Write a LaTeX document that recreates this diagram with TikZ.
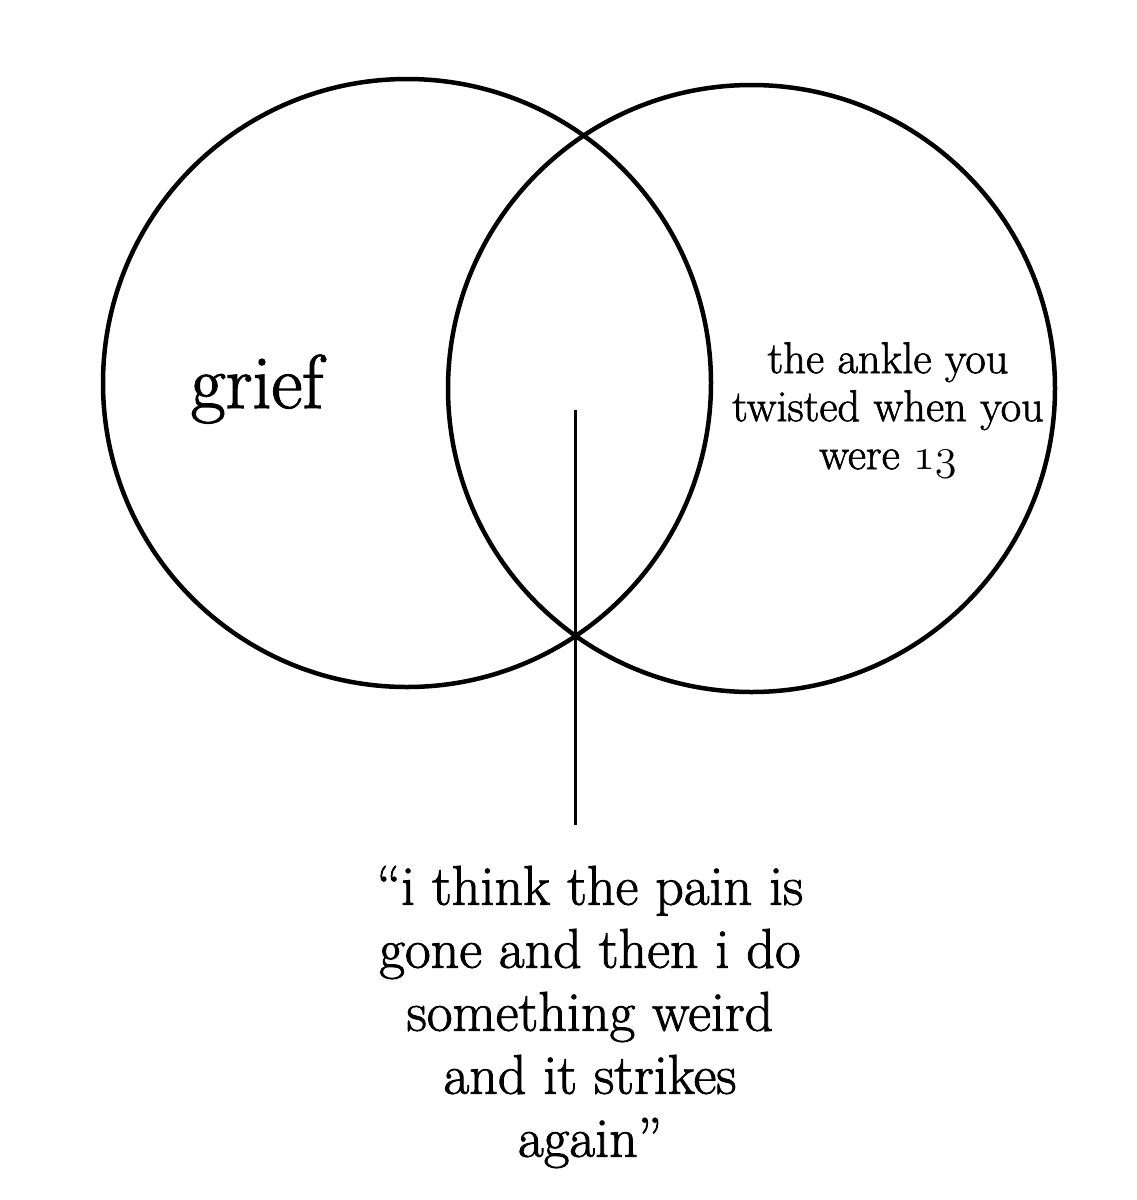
\documentclass[tikz,border=0pt]{standalone}
\usepackage{fontspec}
\setmainfont{Latin Modern Roman}[FakeBold=1.5]
\font\oldnumfont=cmmi12 at 44.5pt
\begin{document}
\begin{tikzpicture}[x=1pt,y=-1pt,
  ring/.style={draw=black,line width=4.5pt},
  stem/.style={draw=black,line width=3.5pt},
  lbl/.style={inner sep=0pt,align=center,text=black}]
\useasboundingbox[fill=white] (0,0) rectangle (1136,1200);
\draw[ring] (407,383) circle[radius=304];
\draw[ring] (751.5,388.5) circle[radius=303.5];
\coordinate (top) at (575.5,410);
\coordinate (bot) at (575.5,825);
\draw[stem] (top) -- (bot);
\node[lbl,anchor=base,font=\fontsize{76}{86}\selectfont] (grief) at (257,408) {grief};
\node[lbl,font=\fontsize{44.5}{48}\selectfont] (ankle) at (888,410) {the ankle you\\twisted when you\\were {\oldnumfont 13}};
\node[lbl,font=\fontsize{56}{63}\selectfont] (quote) at (590,1017) {``i think the pain is\\gone and then i do\\something weird\\and it strikes\\again''};
\end{tikzpicture}
\end{document}
